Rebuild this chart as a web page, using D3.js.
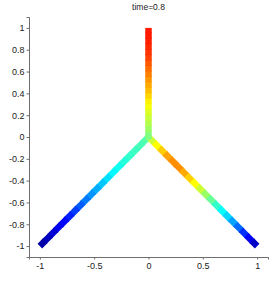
<!DOCTYPE html>
<html><head><meta charset="utf-8">
<script src="https://cdn.jsdelivr.net/npm/d3@7"></script>
<style>body{margin:0;background:#fff}svg{display:block}text{font-family:"Liberation Sans",Arial,sans-serif}</style>
</head><body><svg id="c" width="273" height="284"></svg>
<script>
const title = "time=0.8";
const xTicks = [-1, -0.5, 0, 0.5, 1];
const yTicks = [-1, -0.8, -0.6, -0.4, -0.2, 0, 0.2, 0.4, 0.6, 0.8, 1];
// parameter along each branch, from the junction (0,0) to the branch end
const branchT = [0,0.05,0.1,0.15,0.2,0.25,0.3,0.35,0.4,0.45,0.5,0.55,0.6,0.65,0.7,0.75,0.8,0.85,0.9,0.95,1];
// branch end points
const branchEnds = [[0,1],[-1,-1],[1,-1]];
// colour values (0..1, jet colormap) at each node
const valsUp    = [0.50,0.52,0.54,0.56,0.58,0.60,0.63,0.65,0.68,0.70,0.72,0.74,0.76,0.78,0.80,0.82,0.83,0.84,0.85,0.85,0.85];
const valsLeft  = [0.46,0.45,0.44,0.43,0.42,0.40,0.38,0.36,0.33,0.31,0.28,0.26,0.23,0.20,0.17,0.14,0.12,0.10,0.07,0.05,0.03];
const valsRight = [0.55,0.60,0.65,0.70,0.73,0.74,0.73,0.69,0.65,0.60,0.55,0.50,0.45,0.40,0.36,0.31,0.26,0.20,0.14,0.09,0.05];
const branchVals = [valsUp, valsLeft, valsRight];

const svg = d3.select("#c");
const x = d3.scaleLinear().domain([-1.1,1.1]).range([29,268]);
const y = d3.scaleLinear().domain([-1.1,1.1]).range([257,17]);
const cl = v => Math.max(0, Math.min(1, v));
const jet = v => d3.rgb(255*cl(1.5-Math.abs(4*v-3)), 255*cl(1.5-Math.abs(4*v-2)), 255*cl(1.5-Math.abs(4*v-1))).toString();

const segs = [];
branchEnds.forEach((e,b) => {
  const vals = branchVals[b];
  for (let i=0;i<branchT.length-1;i++){
    const t0=branchT[i], t1=branchT[i+1];
    // slight overlap with the next segment to avoid seams
    const t1e = i<branchT.length-2 ? t1+0.01 : t1;
    segs.push({x0:e[0]*t0,y0:e[1]*t0,x1:e[0]*t1e,y1:e[1]*t1e,v:(vals[i]+vals[i+1])/2});
  }
});
svg.append("g").selectAll("line").data(segs).join("line")
  .attr("x1",d=>x(d.x0)).attr("y1",d=>y(d.y0)).attr("x2",d=>x(d.x1)).attr("y2",d=>y(d.y1))
  .attr("stroke",d=>jet(d.v)).attr("stroke-width",6.5).attr("stroke-linecap","butt");
// junction
svg.append("circle").attr("cx",x(0)).attr("cy",y(0)).attr("r",3.3).attr("fill",jet(valsUp[0]));

const axColor = "#6e6e6e";
const fmt = d => String(d).replace("−","-");
const gx = svg.append("g").attr("transform","translate(0,257)").call(d3.axisBottom(x).tickValues(xTicks).tickSize(2.5).tickPadding(3).tickFormat(fmt));
const gy = svg.append("g").attr("transform","translate(29,0)").call(d3.axisLeft(y).tickValues(yTicks).tickSize(2.5).tickPadding(2).tickFormat(fmt));
[gx,gy].forEach(g=>{
  g.select(".domain").attr("stroke",axColor);
  g.selectAll(".tick line").attr("stroke",axColor);
  g.selectAll("text").attr("fill","#222").style("font-size","9px").style("font-family","'Liberation Sans',Arial,sans-serif");
});
svg.append("text").attr("x",148.5).attr("y",10).attr("text-anchor","middle").attr("fill","#222").style("font-size","8.5px").text(title);
</script></body></html>
